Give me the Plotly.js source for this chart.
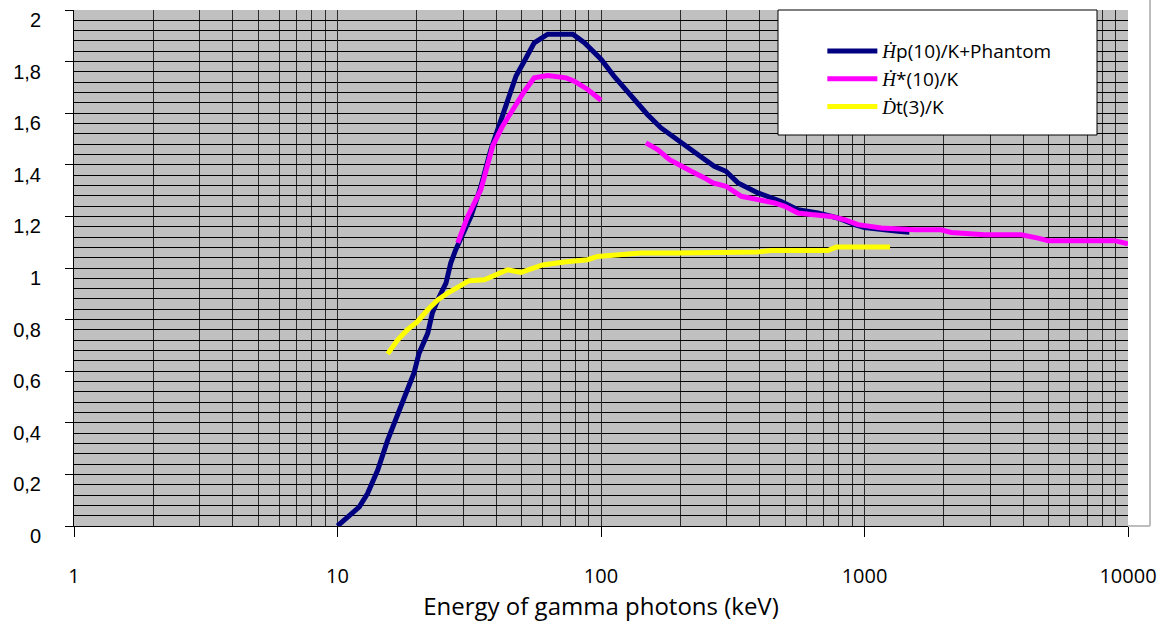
<!DOCTYPE html>
<html>
<head>
<meta charset="utf-8">
<script src="https://cdn.plot.ly/plotly-3.0.1.min.js"></script>
<style>html,body{margin:0;padding:0;background:#fff;}#chart{width:1160px;height:622px;}</style>
</head>
<body>
<div id="chart"></div>
<script>
// Energy (keV) and ratio values
const hpEnergy = [10, 12.1, 13.0, 14.2, 15.5, 16.9, 18.4, 19.5, 20.4, 22.0, 22.9, 24.0, 25.8, 26.9, 28.1, 32.1, 35.0, 38.2, 41.1, 44.2, 47.6, 51.2, 55.8, 62.8, 78.2, 86.5, 100, 112, 130, 150, 169, 196, 233, 269, 298, 331, 394, 483, 559, 665, 792, 917, 1000, 1340, 1480];
const hpValue  = [0, 0.074, 0.126, 0.216, 0.333, 0.437, 0.527, 0.592, 0.670, 0.747, 0.825, 0.876, 0.941, 1.019, 1.071, 1.200, 1.316, 1.459, 1.550, 1.653, 1.744, 1.802, 1.873, 1.906, 1.906, 1.873, 1.809, 1.744, 1.666, 1.595, 1.543, 1.498, 1.440, 1.394, 1.375, 1.330, 1.291, 1.258, 1.226, 1.213, 1.194, 1.168, 1.157, 1.142, 1.139];

const hsEnergy = [28.6, 31.2, 35.0, 37.1, 38.8, 42.3, 46.9, 51.2, 55.8, 62.8, 73.7, 79.2, 89, 100, null, 148, 164, 182, 196, 220, 247, 266, 298, 321, 341, 394, 456, 498, 559, 628, 748, 841, 944, 1159, 1549, 1954, 2133, 2857, 3936, 4555, 4975, 8916, 10000];
const hsValue  = [1.097, 1.200, 1.304, 1.394, 1.472, 1.550, 1.627, 1.685, 1.737, 1.746, 1.737, 1.724, 1.692, 1.650, null, 1.485, 1.459, 1.420, 1.401, 1.375, 1.349, 1.330, 1.317, 1.297, 1.278, 1.265, 1.252, 1.239, 1.213, 1.207, 1.200, 1.187, 1.168, 1.155, 1.148, 1.148, 1.138, 1.129, 1.129, 1.116, 1.106, 1.106, 1.094];

const dtEnergy = [15.5, 16.9, 18.4, 20.1, 22.0, 24.0, 26.2, 29.0, 31.6, 36.1, 44.2, 49.7, 60.1, 72.6, 89, 97, 116, 142, 196, 303, 394, 442, 726, 781, 1250];
const dtValue  = [0.667, 0.721, 0.760, 0.792, 0.838, 0.876, 0.903, 0.928, 0.951, 0.954, 0.993, 0.983, 1.012, 1.023, 1.032, 1.045, 1.051, 1.058, 1.058, 1.058, 1.062, 1.068, 1.068, 1.081, 1.081];

const xTickVals = [1, 10, 100, 1000, 10000];
const xTickText = ["1", "10", "100", "1000", "10000"];
const yTickVals = [0, 0.2, 0.4, 0.6, 0.8, 1, 1.2, 1.4, 1.6, 1.8, 2];
const yTickText = ["0", "0,2", "0,4", "0,6", "0,8", "1", "1,2", "1,4", "1,6", "1,8", "2"];

const seriesNames = [
  '<span style="font-family:\'Liberation Serif\'"><i>Ḣ</i></span>p(10)/K+Phantom',
  '<span style="font-family:\'Liberation Serif\'"><i>Ḣ</i></span>*(10)/K',
  '<span style="font-family:\'Liberation Serif\'"><i>Ḋ</i></span>t(3)/K'
];
const seriesColors = ['#000080', '#FF00FF', '#FFFF00'];

// minor grid positions (2..9 within each decade)
const minorX = [];
for (let d = 1; d < 10000; d *= 10) for (let k = 2; k <= 9; k++) minorX.push(d * k);

const traces = [
  {x: hpEnergy, y: hpValue, name: seriesNames[0]},
  {x: hsEnergy, y: hsValue, name: seriesNames[1], connectgaps: false},
  {x: dtEnergy, y: dtValue, name: seriesNames[2]}
].map((t, i) => Object.assign(t, {
  type: 'scatter', mode: 'lines',
  line: {color: seriesColors[i], width: 5, shape: 'linear'}
}));

const layout = {
  width: 1160, height: 622,
  margin: {l: 74, r: 32, t: 10, b: 96},
  paper_bgcolor: '#ffffff',
  plot_bgcolor: '#C0C0C0',
  font: {family: 'Liberation Sans, Arial', size: 17, color: '#000'},
  xaxis: {
    type: 'log', range: [0, 4],
    tickmode: 'array', tickvals: xTickVals, ticktext: xTickText,
    ticks: 'outside', ticklen: 10, tickcolor: '#000', tickwidth: 1,
    showgrid: true, gridcolor: '#2a2a2a', gridwidth: 1,
    minor: {tickmode: 'array', tickvals: minorX, showgrid: true, gridcolor: '#2a2a2a', gridwidth: 1, ticks: ''},
    showline: true, linecolor: '#000', linewidth: 1,
    zeroline: false,
    ticklabelstandoff: 22,
    tickfont: {family: 'Open Sans, Noto Sans', size: 20, color: '#000'},
    title: {text: 'Energy of gamma photons (keV)', font: {family: 'Open Sans, Noto Sans', size: 24, color: '#000'}, standoff: 0}
  },
  yaxis: {
    range: [0, 2],
    tickmode: 'array', tickvals: yTickVals, ticktext: yTickText,
    ticks: 'outside', ticklen: 8, tickcolor: '#000', tickwidth: 1,
    showgrid: true, gridcolor: '#000', gridwidth: 1,
    minor: {dtick: 0.04, tick0: 0, showgrid: true, gridcolor: '#000', gridwidth: 1, ticks: ''},
    showline: true, linecolor: '#000', linewidth: 1,
    zeroline: false,
    ticklabelstandoff: 20,
    ticklabelshift: 10,
    ticklabeloverflow: 'allow',
    tickfont: {family: 'Liberation Sans, Arial', size: 20, color: '#000'}
  },
  showlegend: true,
  legend: {
    x: 0.71, y: 0.957, xanchor: 'left', yanchor: 'top',
    bgcolor: 'rgba(0,0,0,0)', borderwidth: 0,
    font: {family: 'Open Sans, Noto Sans', size: 19, color: '#000'},
    itemwidth: 50,
    tracegroupgap: 0
  },
  shapes: [
    {type: 'rect', xref: 'paper', yref: 'paper', layer: 'above',
     x0: (778 - 74) / 1054, x1: (1097 - 74) / 1054, y0: (526 - 135) / 516, y1: 1,
     fillcolor: '#ffffff', line: {color: '#000', width: 1}},
    {type: 'line', xref: 'paper', yref: 'paper', layer: 'above',
     x0: (1150 - 74) / 1054, x1: (1150 - 74) / 1054, y0: 0, y1: 1.02,
     line: {color: '#bdbdbd', width: 2}},
    {type: 'line', xref: 'paper', yref: 'paper', layer: 'above',
     x0: 1, x1: (1150 - 74) / 1054, y0: 0, y1: 0,
     line: {color: '#bdbdbd', width: 2}}
  ]
};

Plotly.newPlot('chart', traces, layout, {displayModeBar: false, staticPlot: true});
</script>
</body>
</html>
